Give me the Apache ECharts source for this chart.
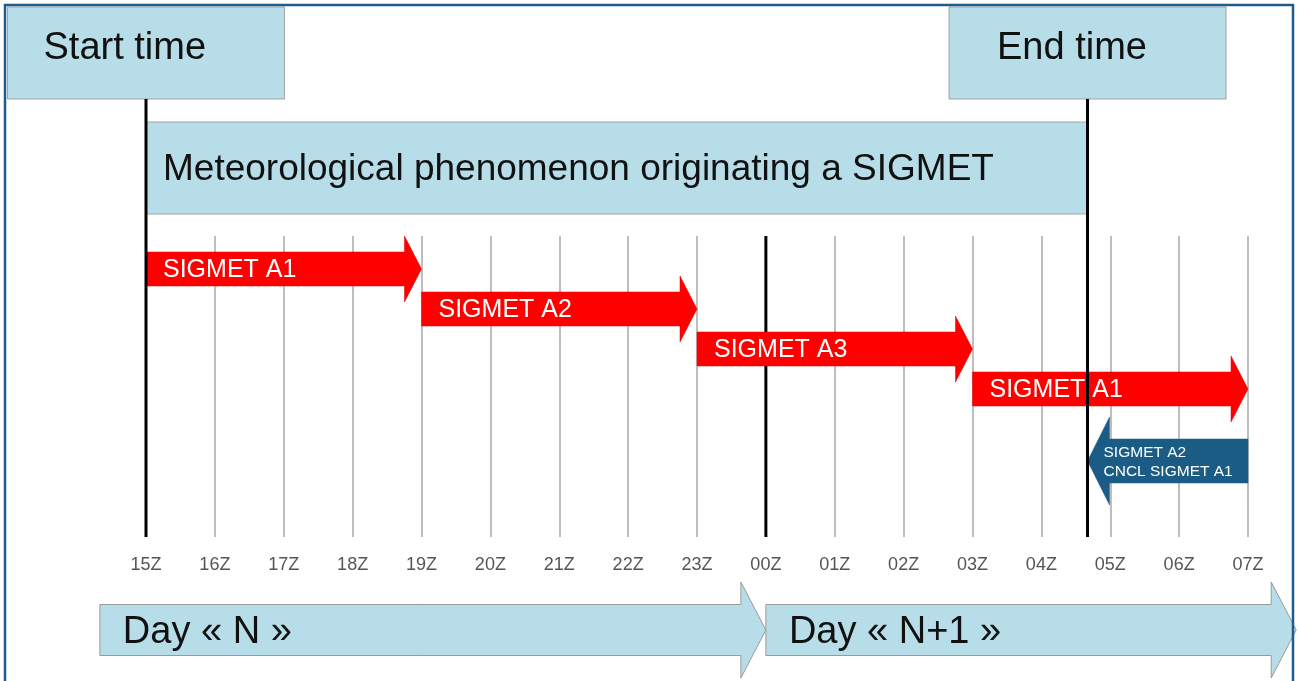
<!DOCTYPE html>
<html>
<head>
<meta charset="utf-8">
<script src="https://cdn.jsdelivr.net/npm/echarts@6/dist/echarts.min.js"></script>
<style>html,body{margin:0;padding:0;background:#fff;}#c{width:1299px;height:681px;}</style>
</head>
<body>
<div id="c"></div>
<script>
// ---- data ----
const hours = ['15Z','16Z','17Z','18Z','19Z','20Z','21Z','22Z','23Z','00Z','01Z','02Z','03Z','04Z','05Z','06Z','07Z'];
const startTime = 0;      // 15Z
const endTime = 13.67;    // ~04:40Z
const midnight = 9;       // 00Z
const sigmetNames = ['SIGMET A1', 'SIGMET A2', 'SIGMET A3', 'SIGMET A1'];
const sigmetFrom = [0, 4, 8, 12];
const sigmetTo = [4, 8, 12, 16];
const sigmetLane = [0, 1, 2, 3];
const cancelNames = ['SIGMET A2\nCNCL SIGMET A1'];
const cancelFrom = [16];
const cancelTo = [endTime];
const cancelLane = [4.8];
const dayNames = ['Day « N »', 'Day « N+1 »'];
const dayFrom = [-0.67, 9];
const dayTo = [9, 16.7];
const dayLane = [9.025, 9.025];
const headerNames = ['Start time', 'End time'];
const headerAt = [startTime, endTime];
const headerLane = [-5.4, -5.4];
const phenomenonName = ['Meteorological phenomenon originating a SIGMET'];
const phenomenonLane = [-2.525];

// ---- styles ----
const FONT = '"Liberation Sans", Arial, sans-serif';
const LIGHT = '#b7dde8';
const BOX_STROKE = '#a3a3a3';
const RED = '#ff0000';
const NAVY = '#1b5c86';
const headerTextOffset = [36, 48];

function arrowPoints(x0, x1, yc, bh, hh, hl) {
  const d = x1 >= x0 ? 1 : -1;
  const xb = x1 - d * hl;
  return [[x0, yc - bh], [xb, yc - bh], [xb, yc - hh], [x1, yc], [xb, yc + hh], [xb, yc + bh], [x0, yc + bh]];
}

function arrowSeries(names, from, to, lane, opts, z) {
  return {
    type: 'custom', clip: false, z: z, silent: true,
    coordinateSystem: 'cartesian2d',
    encode: {x: [0, 1], y: 2},
    data: from.map((f, i) => [f, to[i], lane[i]]),
    renderItem: function (params, api) {
      const i = params.dataIndex;
      const p0 = api.coord([api.value(0), api.value(2)]);
      const p1 = api.coord([api.value(1), api.value(2)]);
      const pts = arrowPoints(p0[0], p1[0], p0[1], opts.bh, opts.hh, opts.hl);
      const tx = opts.textFromTip ? p1[0] + opts.tx : p0[0] + opts.tx;
      return {
        type: 'group',
        children: [
          {type: 'polygon', shape: {points: pts}, style: {fill: opts.fill, stroke: opts.stroke, lineWidth: opts.lw}},
          {type: 'text', style: {text: names[i], x: tx, y: p0[1] + (opts.ty || 0), fill: opts.color,
            font: opts.font, align: 'left', verticalAlign: 'middle', lineHeight: opts.lh || undefined}}
        ]
      };
    }
  };
}

const chart = echarts.init(document.getElementById('c'), null, {renderer: 'canvas'});
chart.setOption({
  backgroundColor: '#ffffff',
  animation: false,
  grid: {left: 146, width: 1102, top: 236, height: 301, containLabel: false},
  xAxis: {
    type: 'value', min: 0, max: 16, interval: 1,
    axisLine: {show: false}, axisTick: {show: false},
    axisLabel: {formatter: v => hours[Math.round(v)], color: '#555', fontSize: 18, fontFamily: FONT, margin: 19},
    splitLine: {show: true, lineStyle: {color: '#a8a8a8', width: 1.5}}
  },
  yAxis: {type: 'value', min: -0.825, max: 6.7, inverse: true, show: false},
  graphic: [{
    type: 'rect', z: 100, silent: true,
    shape: {x: 5, y: 5, width: 1288, height: 700},
    style: {fill: 'none', stroke: '#1f5b8b', lineWidth: 2.5}
  }],
  series: [
    // header boxes (Start / End time)
    {
      type: 'custom', clip: false, z: 2, silent: true,
      encode: {x: 0, y: 1},
      data: headerAt.map((t, i) => [t, headerLane[i]]),
      renderItem: function (params, api) {
        const i = params.dataIndex;
        const p = api.coord([api.value(0), api.value(1)]);
        const w = 277, h = 92;
        return {type: 'group', children: [
          {type: 'rect', shape: {x: p[0] - w / 2, y: p[1] - h / 2, width: w, height: h},
            style: {fill: LIGHT, stroke: BOX_STROKE, lineWidth: 1}},
          {type: 'text', style: {text: headerNames[i], x: p[0] - w / 2 + headerTextOffset[i], y: p[1] - 4,
            fill: '#111', font: '38px ' + FONT, align: 'left', verticalAlign: 'middle'}}
        ]};
      }
    },
    // phenomenon box
    {
      type: 'custom', clip: false, z: 2, silent: true,
      encode: {x: [0, 1], y: 2},
      data: [[startTime, endTime, phenomenonLane[0]]],
      renderItem: function (params, api) {
        const p0 = api.coord([api.value(0), api.value(2)]);
        const p1 = api.coord([api.value(1), api.value(2)]);
        const h = 92;
        return {type: 'group', children: [
          {type: 'rect', shape: {x: p0[0], y: p0[1] - h / 2, width: p1[0] - p0[0], height: h},
            style: {fill: LIGHT, stroke: BOX_STROKE, lineWidth: 1}},
          {type: 'text', style: {text: phenomenonName[0], x: p0[0] + 17, y: p0[1] + 2,
            fill: '#111', font: '37px ' + FONT, align: 'left', verticalAlign: 'middle'}}
        ]};
      }
    },
    // midnight line (under arrows)
    {
      type: 'custom', clip: false, z: 3, silent: true,
      encode: {x: 0, y: [1, 2]},
      data: [[midnight, -0.825, 6.7]],
      renderItem: function (params, api) {
        const a = api.coord([api.value(0), api.value(1)]);
        const b = api.coord([api.value(0), api.value(2)]);
        return {type: 'line', shape: {x1: a[0], y1: a[1], x2: b[0], y2: b[1]}, style: {stroke: '#000', lineWidth: 3}};
      }
    },
    // SIGMET red arrows
    arrowSeries(sigmetNames, sigmetFrom, sigmetTo, sigmetLane,
      {bh: 17, hh: 33, hl: 17, fill: RED, stroke: '#e00000', lw: 0.5, color: '#fff', font: '25px ' + FONT, tx: 17, ty: 1.5}, 5),
    // cancel arrow (navy, pointing left)
    arrowSeries(cancelNames, cancelFrom, cancelTo, cancelLane,
      {bh: 22, hh: 44, hl: 22, fill: NAVY, stroke: NAVY, lw: 0.5, color: '#fff', font: '15.5px ' + FONT, tx: 16, textFromTip: true, lh: 19, ty: 1}, 5),
    // Day arrows
    arrowSeries(dayNames, dayFrom, dayTo, dayLane,
      {bh: 25.5, hh: 48, hl: 25, fill: LIGHT, stroke: '#9a9a9a', lw: 1, color: '#111', font: '38px ' + FONT, tx: 23, ty: 3}, 4),
    // start / end lines (on top)
    {
      type: 'custom', clip: false, z: 8, silent: true,
      encode: {x: 0, y: [1, 2]},
      data: [[startTime, -4.25, 6.7], [endTime, -4.25, 6.7]],
      renderItem: function (params, api) {
        const a = api.coord([api.value(0), api.value(1)]);
        const b = api.coord([api.value(0), api.value(2)]);
        return {type: 'line', shape: {x1: a[0], y1: a[1], x2: b[0], y2: b[1]}, style: {stroke: '#000', lineWidth: 3}};
      }
    }
  ]
});
</script>
</body>
</html>
